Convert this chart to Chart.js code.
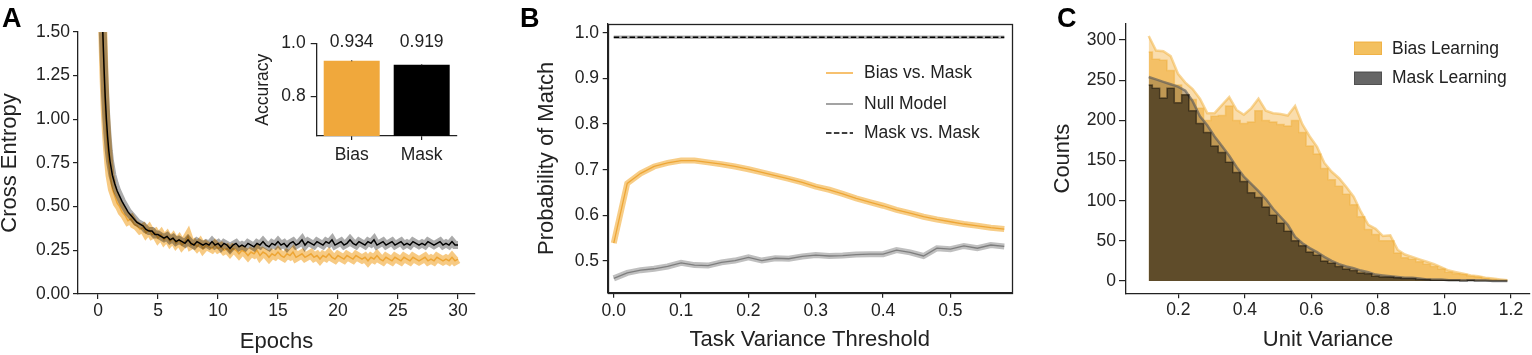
<!DOCTYPE html>
<html><head><meta charset="utf-8">
<script src="https://cdn.jsdelivr.net/npm/chart.js@4.4.1/dist/chart.umd.min.js"></script>
<style>
html,body{margin:0;padding:0;background:#fff;}
body{width:1532px;height:355px;position:relative;overflow:hidden;}
canvas{position:absolute;}
</style></head><body>
<canvas id="cA" width="500" height="355" style="left:0px;top:0px"></canvas>
<canvas id="cInset" width="250" height="180" style="left:230px;top:0px"></canvas>
<canvas id="cB" width="520" height="355" style="left:510px;top:0px"></canvas>
<canvas id="cC" width="492" height="355" style="left:1040px;top:0px"></canvas>
<script>
// ---------------- Panel A data ----------------
const epochs = [0.4,0.5,0.6,0.7,0.8,0.9,1.0,1.2,1.4,1.6,1.8,2.0,2.25,2.5,2.75,3.0,
3.25,3.5,3.75,4.0,4.25,4.5,4.75,5.0,5.25,5.5,5.75,6.0,6.25,6.5,6.75,7.0,7.25,7.5,7.75,8.0,
8.25,8.5,8.75,9.0,9.25,9.5,9.75,10.0,10.25,10.5,10.75,11.0,11.25,11.5,11.75,12.0,
12.25,12.5,12.75,13.0,13.25,13.5,13.75,14.0,14.25,14.5,14.75,15.0,15.25,15.5,15.75,16.0,
16.25,16.5,16.75,17.0,17.25,17.5,17.75,18.0,18.25,18.5,18.75,19.0,19.25,19.5,19.75,20.0,
20.25,20.5,20.75,21.0,21.25,21.5,21.75,22.0,22.25,22.5,22.75,23.0,23.25,23.5,23.75,24.0,
24.25,24.5,24.75,25.0,25.25,25.5,25.75,26.0,26.25,26.5,26.75,27.0,27.25,27.5,27.75,28.0,
28.25,28.5,28.75,29.0,29.25,29.5,29.75,30.0];
const maskLoss = [1.50,1.30,1.13,1.00,0.90,0.82,0.76,0.68,0.63,0.59,0.56,0.53,0.50,0.47,0.45,0.43,
0.41,0.40,0.39,0.37, 0.36,0.36,0.34,0.34, 0.33,0.32,0.33,0.31, 0.32,0.30,0.31,0.30,
0.29,0.31,0.29,0.28, 0.30,0.29,0.28,0.29, 0.28,0.30,0.28,0.29, 0.27,0.29,0.28,0.26,
0.28,0.29,0.27,0.28, 0.27,0.29,0.28,0.27, 0.29,0.28,0.30,0.28, 0.27,0.29,0.28,0.30,
0.28,0.29,0.27,0.29, 0.30,0.28,0.29,0.31, 0.28,0.30,0.29,0.28, 0.30,0.29,0.28,0.30,
0.29,0.31,0.28,0.29, 0.30,0.28,0.29,0.31, 0.29,0.28,0.30,0.29, 0.28,0.30,0.29,0.31,
0.28,0.29,0.30,0.28, 0.29,0.30,0.28,0.29, 0.30,0.28,0.29,0.28, 0.30,0.29,0.28,0.29,
0.28,0.30,0.29,0.28, 0.29,0.30,0.28,0.29, 0.28,0.30,0.28,0.28];
const biasLoss = [1.50,1.25,1.06,0.93,0.83,0.75,0.68,0.60,0.56,0.52,0.50,0.47,0.45,0.42,0.43,0.40,
0.39,0.37,0.38,0.35, 0.37,0.34,0.35,0.32, 0.34,0.31,0.33,0.30, 0.32,0.29,0.31,0.28,
0.30,0.33,0.28,0.29, 0.27,0.29,0.26,0.28, 0.27,0.26,0.28,0.26, 0.27,0.25,0.26,0.24,
0.26,0.25,0.23,0.25, 0.24,0.22,0.24,0.23, 0.25,0.22,0.24,0.23, 0.21,0.23,0.22,0.24,
0.22,0.21,0.23,0.22, 0.24,0.21,0.22,0.23, 0.21,0.22,0.23,0.21, 0.22,0.20,0.22,0.21,
0.23,0.21,0.20,0.22, 0.21,0.20,0.22,0.21, 0.20,0.22,0.21,0.20, 0.21,0.19,0.21,0.20,
0.22,0.20,0.19,0.21, 0.20,0.19,0.21,0.20, 0.19,0.21,0.20,0.19, 0.21,0.20,0.19,0.20,
0.21,0.19,0.20,0.19, 0.21,0.20,0.19,0.20, 0.19,0.21,0.19,0.20];
const aXTicks = [0,5,10,15,20,25,30];
const aYTicks = [0,0.25,0.5,0.75,1.0,1.25,1.5];

// inset
const accLabels = ['Bias','Mask'];
const accValues = [0.934, 0.919];
const accErrors = [0.002, 0.002];
const insetYTicks = [0.8, 1.0];

// ---------------- Panel B data ----------------
const thresholds = [0.00,0.02,0.04,0.06,0.08,0.10,0.12,0.14,0.16,0.18,0.20,0.22,0.24,0.26,0.28,
0.30,0.32,0.34,0.36,0.38,0.40,0.42,0.44,0.46,0.48,0.50,0.52,0.54,0.56,0.58];
const biasVsMask = [0.539,0.670,0.692,0.707,0.715,0.720,0.720,0.716,0.712,0.707,0.701,0.694,0.687,0.680,0.672,
0.663,0.656,0.647,0.637,0.629,0.621,0.612,0.605,0.597,0.591,0.586,0.581,0.577,0.573,0.570];
const nullModel = [0.462,0.474,0.480,0.483,0.488,0.496,0.491,0.490,0.497,0.501,0.508,0.501,0.506,0.505,0.510,
0.513,0.511,0.512,0.514,0.515,0.515,0.524,0.519,0.511,0.528,0.526,0.533,0.528,0.535,0.532];
const maskVsMask = [0.99,0.99,0.99,0.99,0.99,0.99,0.99,0.99,0.99,0.99,0.99,0.99,0.99,0.99,0.99,
0.99,0.99,0.99,0.99,0.99,0.99,0.99,0.99,0.99,0.99,0.99,0.99,0.99,0.99,0.99];
const bXTicks = [0.0,0.1,0.2,0.3,0.4,0.5];
const bYTicks = [0.5,0.6,0.7,0.8,0.9,1.0];

// ---------------- Panel C data ----------------
const binCenters = [0.111,0.133,0.155,0.177,0.199,0.221,0.243,0.265,0.287,0.309,
0.331,0.353,0.375,0.397,0.419,0.441,0.463,0.485,0.507,0.529,
0.551,0.573,0.595,0.617,0.639,0.661,0.683,0.705,0.727,0.749,
0.771,0.793,0.815,0.837,0.859,0.881,0.903,0.925,0.947,0.969,
0.991,1.013,1.035,1.057,1.079,1.101,1.123,1.145,1.167,1.189];
const biasCountsUpper = [305,287,286,280,258,247,239,227,209,209, 219,229,213,207,215,227,212,209,208,206,
218,195,180,167,147,136,128,117,105,86, 70,65,56,57,39,33,30,27,24,21, 17,13,11,9,7,6,4,3,2,1];
const biasCounts = [285,276,275,262,244,232,226,215,200,205, 206,218,200,196,198,212,200,198,195,193,
200,185,168,158,140,126,118,108,95,80, 64,58,50,50,35,29,27,24,21,18, 15,11,9,8,6,5,3,2,1,1];
const maskCountsUpper = [254,251,248,245,242,237,224,205,194,180, 168,156,142,130,121,112,102,90,80,70,
55,47,41,36,30,25,21,18,16,13, 11,8,7,6,5,4,4,3,2,2, 2,1,1,1,1,1,1,0,0,0];
const maskCounts = [244,240,228,240,222,232,212,196,185,168, 160,148,135,124,110,104,92,82,72,62,
50,44,36,32,25,22,18,15,13,10, 9,6,5,5,4,3,3,2,2,1, 1,1,1,0,1,0,0,0,0,0];
const cXTicks = [0.2,0.4,0.6,0.8,1.0,1.2];
const cYTicks = [0,50,100,150,200,250,300];

// ---------------- helpers ----------------
const FONT = "'Liberation Sans', Arial, Helvetica, sans-serif";
const INK = '#222';
Chart.defaults.font.family = FONT;
Chart.defaults.color = INK;

function pts(xs, ys){ return xs.map((x,i)=>({x:x, y:ys[i]})); }

function makeAxis(o){
  const a = {
    type: o.type || 'linear',
    offset: !!o.offset,
    afterFit: (s)=>{ if (o.width!=null) s.width=o.width; if (o.height!=null) s.height=o.height; },
    grid: {display:true, drawOnChartArea:false, drawTicks:true, tickLength:o.tl, color:INK, lineWidth:1.2, offset:false},
    border: {display:true, color:INK, width:1.3},
    ticks: {padding:o.pad, color:INK, font:{size:17.5, family:FONT}, maxRotation:0, autoSkip:false},
    title: o.title ? {display:true, text:o.title, color:INK, font:{size:o.titleSize||22, family:FONT}, padding:o.titlePad} : {display:false}
  };
  if (o.min!=null) a.min = o.min;
  if (o.max!=null) a.max = o.max;
  if (o.ticks) a.afterBuildTicks = (s)=>{ s.ticks = o.ticks.map(v=>({value:v})); };
  if (o.fmt) a.ticks.callback = o.fmt;
  return a;
}

const panelLabel = {
  id:'panelLabel',
  afterDraw(chart, args, opts){
    if (!opts || !opts.text) return;
    const ctx = chart.ctx; ctx.save();
    ctx.font = 'bold 27px ' + FONT; ctx.fillStyle = '#000';
    ctx.textBaseline = 'alphabetic'; ctx.textAlign = 'left';
    ctx.fillText(opts.text, opts.x, opts.y);
    ctx.restore();
  }
};

const baseOpts = (pad) => ({
  responsive:false, animation:false, devicePixelRatio:1,
  layout:{padding:pad},
  plugins:{legend:{display:false}, tooltip:{enabled:false}},
  elements:{point:{radius:0}, line:{tension:0}}
});

// ---------------- Panel A ----------------
const optsA = baseOpts({left:0, top:32, right:25, bottom:0});
optsA.scales = {
  x: makeAxis({min:-1.667, max:31.417, ticks:aXTicks, fmt:(v)=>String(v), tl:5, pad:2, height:61, title:'Epochs', titlePad:{top:0,bottom:0.3}}),
  y: makeAxis({min:0, max:1.5, ticks:aYTicks, fmt:(v)=>Number(v).toFixed(2), tl:5, pad:3, width:78, title:'Cross Entropy', titlePad:{top:-3.4,bottom:0}})
};
optsA.plugins.panelLabel = {text:'A', x:2, y:27};
new Chart(document.getElementById('cA'), {
  type:'line',
  data:{datasets:[
    {label:'Mask', data:pts(epochs, maskLoss), borderColor:'#000', borderWidth:1.5, order:0},
    {label:'Mask band', data:pts(epochs, maskLoss), borderColor:'rgba(0,0,0,0.33)', borderWidth:8, order:1},
    {label:'Bias', data:pts(epochs, biasLoss), borderColor:'rgba(236,160,40,0.85)', borderWidth:1.5, order:2},
    {label:'Bias band', data:pts(epochs, biasLoss), borderColor:'rgba(242,170,55,0.62)', borderWidth:9, order:3}
  ]},
  options:optsA,
  plugins:[panelLabel]
});

// ---------------- Inset ----------------
const insetLabels = {
  id:'insetLabels',
  afterDatasetsDraw(chart){
    const ctx = chart.ctx, ys = chart.scales.y;
    const meta = chart.getDatasetMeta(0);
    ctx.save();
    ctx.font = '17.5px ' + FONT; ctx.fillStyle = INK;
    ctx.textAlign = 'center'; ctx.textBaseline = 'middle';
    meta.data.forEach((bar,i)=>{
      ctx.fillText(accValues[i].toFixed(3), bar.x, ys.getPixelForValue(1.0) - 1.5);
      ctx.strokeStyle = '#333'; ctx.lineWidth = 1.2;
      ctx.beginPath();
      ctx.moveTo(bar.x, ys.getPixelForValue(accValues[i]+accErrors[i]));
      ctx.lineTo(bar.x, ys.getPixelForValue(accValues[i]-accErrors[i]));
      ctx.stroke();
    });
    ctx.restore();
  }
};
const optsI = baseOpts({left:0, top:43.3, right:23.3, bottom:0});
optsI.scales = {
  x: makeAxis({type:'category', offset:true, tl:4, pad:4.3, height:44}),
  y: makeAxis({min:0.65, max:1.0, ticks:insetYTicks, fmt:(v)=>Number(v).toFixed(1), tl:6, pad:5, width:86.7, title:'Accuracy', titleSize:17.5, titlePad:{top:22.6,bottom:0}})
};
new Chart(document.getElementById('cInset'), {
  type:'bar',
  data:{labels:accLabels, datasets:[{data:accValues, backgroundColor:['#F0A83C','#000000'], borderWidth:0, barPercentage:0.8, categoryPercentage:1.0}]},
  options:optsI,
  plugins:[insetLabels]
});

// ---------------- Panel B ----------------
const frameB = {
  id:'frameB',
  afterDraw(chart){
    const a = chart.chartArea, ctx = chart.ctx;
    ctx.save(); ctx.strokeStyle = INK; ctx.lineWidth = 1.3;
    ctx.strokeRect(Math.round(a.left)+0.5, Math.round(a.top)+0.5, Math.round(a.right-a.left), Math.round(a.bottom-a.top));
    ctx.restore();
  }
};
const legendB = {
  id:'legendB',
  afterDraw(chart){
    const ctx = chart.ctx; ctx.save();
    ctx.font = '17.5px ' + FONT; ctx.fillStyle = INK; ctx.textBaseline = 'middle'; ctx.textAlign = 'left';
    const rows = [73, 104, 133];
    chart.data.datasets.filter(d=>d.legendColor).forEach((d,i)=>{
      const y = rows[i];
      ctx.strokeStyle = d.legendColor; ctx.lineWidth = 1.6;
      ctx.setLineDash(d.borderDash || []);
      ctx.beginPath(); ctx.moveTo(316, y); ctx.lineTo(343, y); ctx.stroke();
      ctx.setLineDash([]);
      ctx.fillText(d.label, 354, y);
    });
    ctx.restore();
  }
};
const optsB = baseOpts({left:0, top:24, right:18.3, bottom:0});
optsB.scales = {
  x: makeAxis({min:-0.009, max:0.591, ticks:bXTicks, fmt:(v)=>Number(v).toFixed(1), tl:5, pad:3.3, height:62.3, title:'Task Variance Threshold', titlePad:{top:0,bottom:2}}),
  y: makeAxis({min:0.4306, max:1.019, ticks:bYTicks, fmt:(v)=>Number(v).toFixed(1), tl:5, pad:3.7, width:97.7, title:'Probability of Match', titlePad:{top:23.5,bottom:0}})
};
optsB.plugins.panelLabel = {text:'B', x:10, y:27};
new Chart(document.getElementById('cB'), {
  type:'line',
  data:{datasets:[
    {label:'Bias vs. Mask', legendColor:'rgba(245,178,75,1)', data:pts(thresholds, biasVsMask), borderColor:'rgba(236,160,40,0.85)', borderWidth:1.3, order:0},
    {label:'Null Model', legendColor:'rgba(140,140,140,1)', data:pts(thresholds, nullModel), borderColor:'rgba(110,110,110,0.8)', borderWidth:1.3, order:1},
    {label:'Mask vs. Mask', legendColor:'#000', data:pts(thresholds, maskVsMask), borderColor:'#000', borderWidth:1.5, borderDash:[5.5,2.4], order:2},
    {label:'bias band', data:pts(thresholds, biasVsMask), borderColor:'rgba(242,172,55,0.6)', borderWidth:6, order:3},
    {label:'null band', data:pts(thresholds, nullModel), borderColor:'rgba(128,128,128,0.5)', borderWidth:6, order:4},
    {label:'mask band', data:pts(thresholds, maskVsMask), borderColor:'rgba(128,128,128,0.6)', borderWidth:3.5, order:5}
  ]},
  options:optsB,
  plugins:[panelLabel, frameB, legendB]
});

// ---------------- Panel C ----------------
const legendC = {
  id:'legendC',
  afterDraw(chart){
    const ctx = chart.ctx; ctx.save();
    ctx.font = '17.5px ' + FONT; ctx.fillStyle = INK; ctx.textBaseline = 'middle'; ctx.textAlign = 'left';
    const items = [
      {text:'Bias Learning', fill:'rgb(243,192,95)', edge:'rgb(240,178,70)', y:41.7, ty:49.5},
      {text:'Mask Learning', fill:'rgb(102,102,102)', edge:'rgb(80,80,80)', y:71.7, ty:78.5}
    ];
    items.forEach(it=>{
      ctx.fillStyle = it.fill; ctx.fillRect(314, it.y, 28, 13.3);
      ctx.strokeStyle = it.edge; ctx.lineWidth = 1; ctx.strokeRect(314.5, it.y+0.5, 27, 12.3);
      ctx.fillStyle = INK; ctx.fillText(it.text, 352, it.ty);
    });
    ctx.restore();
  }
};
const optsC = baseOpts({left:0, top:24, right:2, bottom:0});
optsC.scales = {
  x: makeAxis({min:0.0428, max:1.257, ticks:cXTicks, fmt:(v)=>Number(v).toFixed(1), tl:5, pad:1.7, height:61.7, title:'Unit Variance', titlePad:{top:0,bottom:2}}),
  y: makeAxis({min:-15.3, max:320, ticks:cYTicks, fmt:(v)=>String(v), tl:7, pad:3, width:86, title:'Counts', titlePad:{top:9.9,bottom:0}})
};
optsC.plugins.panelLabel = {text:'C', x:17, y:27};
new Chart(document.getElementById('cC'), {
  type:'line',
  data:{datasets:[
    {label:'Bias Learning upper', data:pts(binCenters, biasCountsUpper), fill:'origin', backgroundColor:'rgba(243,180,70,0.45)', borderColor:'rgba(243,180,70,0.55)', borderWidth:2.5, order:4},
    {label:'Bias Learning', data:pts(binCenters, biasCounts), stepped:'middle', fill:'origin', backgroundColor:'rgba(240,175,60,0.62)', borderColor:'rgba(240,175,60,0.5)', borderWidth:1.5, order:3},
    {label:'Mask Learning upper', data:pts(binCenters, maskCountsUpper), fill:'origin', backgroundColor:'rgba(30,30,30,0.25)', borderColor:'rgba(90,90,90,0.65)', borderWidth:2.5, order:2},
    {label:'Mask Learning', data:pts(binCenters, maskCounts), stepped:'middle', fill:'origin', backgroundColor:'rgba(0,0,0,0.5)', borderColor:'rgba(0,0,0,0.45)', borderWidth:1.5, order:1}
  ]},
  options:optsC,
  plugins:[panelLabel, legendC]
});
</script>
</body></html>
